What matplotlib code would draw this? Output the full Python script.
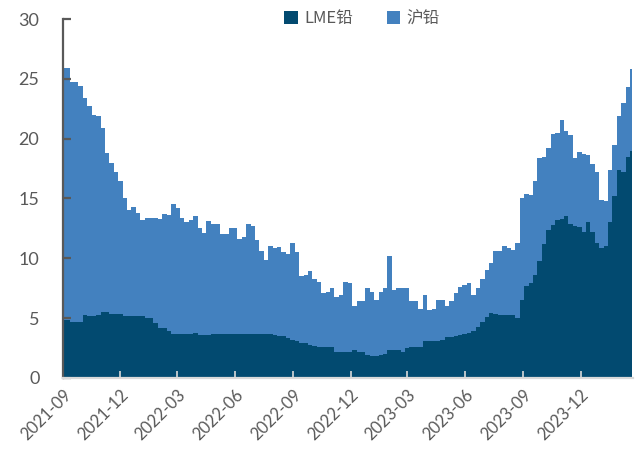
import numpy as np
import pandas as pd
import matplotlib
matplotlib.use("Agg")
import matplotlib.pyplot as plt
import matplotlib.dates as mdates

plt.rcParams['font.family'] = ['Lato', 'Noto Sans CJK SC', 'DejaVu Sans']

# 周度数据，2021-09-01 起
dates = pd.date_range("2021-09-01", periods=130, freq="7D")

lme = [4.85, 4.85, 4.7, 4.7, 4.7, 5.3, 5.2, 5.2, 5.3, 5.5,
       5.5, 5.35, 5.35, 5.35, 5.2, 5.2, 5.2, 5.2, 5.2, 5.0,
       5.0, 4.6, 4.2, 4.15, 3.9, 3.7, 3.7, 3.7, 3.7, 3.7,
       3.8, 3.6, 3.6, 3.6, 3.65, 3.7, 3.7, 3.7, 3.7, 3.7,
       3.7, 3.7, 3.7, 3.7, 3.7, 3.7, 3.7, 3.7, 3.6, 3.5,
       3.5, 3.3, 3.2, 3.05, 2.95, 2.9, 2.75, 2.65, 2.55, 2.55,
       2.55, 2.6, 2.2, 2.2, 2.2, 2.2, 2.3, 2.2, 2.2, 1.9,
       1.85, 1.85, 1.9, 2.0, 2.35, 2.35, 2.35, 2.2, 2.5, 2.55,
       2.55, 2.55, 3.05, 3.05, 3.05, 3.05, 3.2, 3.4, 3.45, 3.5,
       3.6, 3.7, 3.75, 3.9, 4.3, 4.7, 5.1, 5.4, 5.35, 5.3,
       5.25, 5.25, 5.3, 5.05, 6.5, 7.7, 7.9, 8.6, 9.8, 11.2,
       12.35, 12.8, 13.2, 13.3, 13.5, 12.9, 12.7, 12.6, 12.2, 13.0,
       12.2, 11.3, 10.85, 11.0, 13.0, 15.2, 17.4, 17.2, 18.5, 19.0]

total = [25.9, 25.9, 24.75, 24.75, 24.4, 23.4, 22.7, 22.0, 21.9, 20.9,
         18.8, 18.0, 17.2, 16.5, 15.0, 14.0, 14.3, 13.8, 13.2, 13.35,
         13.4, 13.4, 13.3, 13.7, 13.6, 14.5, 14.2, 13.35, 13.05, 13.2,
         13.5, 12.5, 12.1, 13.1, 12.9, 12.9, 12.0, 12.0, 12.5, 12.5,
         11.6, 11.8, 12.85, 12.7, 11.5, 10.6, 9.85, 11.0, 10.9, 10.95,
         10.5, 10.4, 11.3, 10.5, 8.55, 8.6, 8.9, 8.3, 8.05, 7.1,
         7.2, 7.5, 6.8, 6.9, 8.0, 7.95, 6.0, 6.4, 6.4, 7.5,
         7.2, 6.5, 7.2, 7.5, 10.2, 7.35, 7.5, 7.5, 7.5, 6.4,
         6.4, 5.8, 6.95, 5.7, 5.8, 6.5, 6.5, 6.0, 6.4, 7.1,
         7.6, 7.8, 7.9, 6.95, 7.5, 8.3, 9.0, 9.6, 10.65, 10.6,
         11.0, 10.9, 10.7, 11.3, 15.0, 15.4, 15.3, 16.5, 18.4, 18.5,
         19.2, 20.35, 20.5, 21.6, 20.6, 20.3, 18.4, 18.9, 18.7, 18.6,
         17.9, 17.25, 14.9, 14.75, 17.4, 19.5, 21.9, 23.0, 24.3, 25.8]

shfe = [round(t - l, 2) for t, l in zip(total, lme)]

labels = ["LME铅", "沪铅"]
colors = ["#024A70", "#4381BF"]
tick_months = pd.date_range("2021-09-01", "2023-12-01", freq="3MS")

lme_arr = np.array(lme)
top_arr = lme_arr + np.array(shfe)

fig = plt.figure(figsize=(6.41, 4.59), dpi=100)
ax = fig.add_axes([0.0983, 0.1765, 0.8892, 0.7821])

ax.fill_between(dates, 0, lme_arr, step="mid", color=colors[0], lw=0, label=labels[0])
ax.fill_between(dates, lme_arr, top_arr, step="mid", color=colors[1], lw=0, label=labels[1])

ax.set_ylim(0, 30)
ax.set_yticks(range(0, 31, 5))
ax.set_xlim(pd.Timestamp("2021-09-01"), pd.Timestamp("2024-02-22"))
ax.set_xticks(tick_months)
ax.xaxis.set_major_formatter(mdates.DateFormatter("%Y-%m"))

for s in ["top", "right"]:
    ax.spines[s].set_visible(False)
ax.spines["left"].set_color("#595959")
ax.spines["left"].set_linewidth(1.6)
ax.spines["bottom"].set_color("#D9D9D9")
ax.spines["bottom"].set_linewidth(1.6)

ax.tick_params(axis="y", direction="in", length=6, width=1.6, color="#595959",
               labelcolor="#595959", labelsize=13, pad=17)
ax.tick_params(axis="x", direction="in", length=5, width=1.2, color="#D9D9D9",
               labelcolor="#595959", labelsize=12, pad=6)
for lab in ax.get_xticklabels():
    lab.set_rotation(45)
    lab.set_ha("right")
    lab.set_va("top")
    lab.set_rotation_mode("anchor")

leg = fig.legend(loc="upper center", bbox_to_anchor=(0.565, 1.01), ncol=2,
                 frameon=False, handlelength=0.8, handleheight=0.8,
                 handletextpad=0.4, columnspacing=2.0,
                 prop={"family": ["Noto Sans CJK SC"], "size": 12})
for t in leg.get_texts():
    t.set_color("#595959")

fig.savefig("out.png", dpi=100)
